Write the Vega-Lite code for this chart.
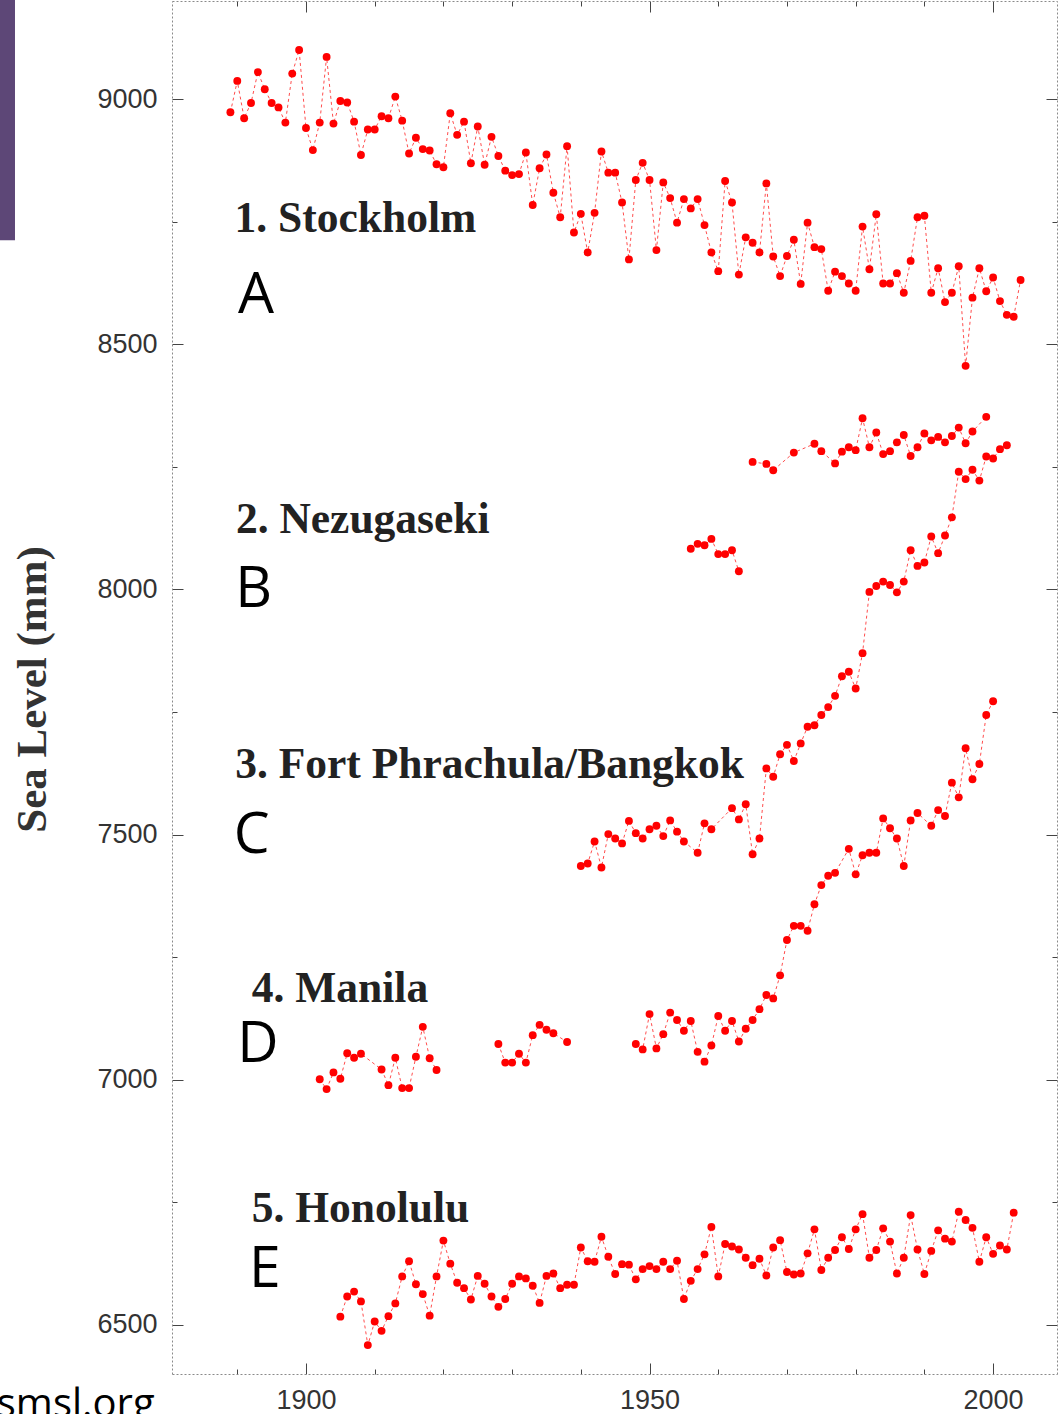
{
  "$schema": "https://vega.github.io/schema/vega-lite/v6.json",
  "width": 885,
  "height": 1373,
  "autosize": "none",
  "padding": {"left": 172, "top": 1, "right": 1, "bottom": 40},
  "background": "white",
  "config": {"view": {"stroke": null}, "axis": {"grid": false}},
  "datasets": {
    "sea": [
      {"seg":"Stockholm","year":1889,"mm":8973},{"seg":"Stockholm","year":1890,"mm":9037},{"seg":"Stockholm","year":1891,"mm":8961},{"seg":"Stockholm","year":1892,"mm":8992},{"seg":"Stockholm","year":1893,"mm":9055},{"seg":"Stockholm","year":1894,"mm":9020},{"seg":"Stockholm","year":1895,"mm":8992},{"seg":"Stockholm","year":1896,"mm":8983},{"seg":"Stockholm","year":1897,"mm":8952},{"seg":"Stockholm","year":1898,"mm":9052},
      {"seg":"Stockholm","year":1899,"mm":9100},{"seg":"Stockholm","year":1900,"mm":8941},{"seg":"Stockholm","year":1901,"mm":8896},{"seg":"Stockholm","year":1902,"mm":8952},{"seg":"Stockholm","year":1903,"mm":9086},{"seg":"Stockholm","year":1904,"mm":8950},{"seg":"Stockholm","year":1905,"mm":8996},{"seg":"Stockholm","year":1906,"mm":8993},{"seg":"Stockholm","year":1907,"mm":8954},{"seg":"Stockholm","year":1908,"mm":8886},
      {"seg":"Stockholm","year":1909,"mm":8938},{"seg":"Stockholm","year":1910,"mm":8938},{"seg":"Stockholm","year":1911,"mm":8965},{"seg":"Stockholm","year":1912,"mm":8961},{"seg":"Stockholm","year":1913,"mm":9005},{"seg":"Stockholm","year":1914,"mm":8956},{"seg":"Stockholm","year":1915,"mm":8889},{"seg":"Stockholm","year":1916,"mm":8921},{"seg":"Stockholm","year":1917,"mm":8898},{"seg":"Stockholm","year":1918,"mm":8895},
      {"seg":"Stockholm","year":1919,"mm":8867},{"seg":"Stockholm","year":1920,"mm":8861},{"seg":"Stockholm","year":1921,"mm":8971},{"seg":"Stockholm","year":1922,"mm":8927},{"seg":"Stockholm","year":1923,"mm":8954},{"seg":"Stockholm","year":1924,"mm":8869},{"seg":"Stockholm","year":1925,"mm":8944},{"seg":"Stockholm","year":1926,"mm":8866},{"seg":"Stockholm","year":1927,"mm":8923},{"seg":"Stockholm","year":1928,"mm":8884},
      {"seg":"Stockholm","year":1929,"mm":8854},{"seg":"Stockholm","year":1930,"mm":8845},{"seg":"Stockholm","year":1931,"mm":8847},{"seg":"Stockholm","year":1932,"mm":8891},{"seg":"Stockholm","year":1933,"mm":8784},{"seg":"Stockholm","year":1934,"mm":8859},{"seg":"Stockholm","year":1935,"mm":8887},{"seg":"Stockholm","year":1936,"mm":8809},{"seg":"Stockholm","year":1937,"mm":8759},{"seg":"Stockholm","year":1938,"mm":8904},
      {"seg":"Stockholm","year":1939,"mm":8728},{"seg":"Stockholm","year":1940,"mm":8766},{"seg":"Stockholm","year":1941,"mm":8687},{"seg":"Stockholm","year":1942,"mm":8768},{"seg":"Stockholm","year":1943,"mm":8893},{"seg":"Stockholm","year":1944,"mm":8850},{"seg":"Stockholm","year":1945,"mm":8850},{"seg":"Stockholm","year":1946,"mm":8789},{"seg":"Stockholm","year":1947,"mm":8673},{"seg":"Stockholm","year":1948,"mm":8835},
      {"seg":"Stockholm","year":1949,"mm":8870},{"seg":"Stockholm","year":1950,"mm":8835},{"seg":"Stockholm","year":1951,"mm":8692},{"seg":"Stockholm","year":1952,"mm":8830},{"seg":"Stockholm","year":1953,"mm":8798},{"seg":"Stockholm","year":1954,"mm":8748},{"seg":"Stockholm","year":1955,"mm":8796},{"seg":"Stockholm","year":1956,"mm":8777},{"seg":"Stockholm","year":1957,"mm":8796},{"seg":"Stockholm","year":1958,"mm":8743},
      {"seg":"Stockholm","year":1959,"mm":8687},{"seg":"Stockholm","year":1960,"mm":8649},{"seg":"Stockholm","year":1961,"mm":8833},{"seg":"Stockholm","year":1962,"mm":8789},{"seg":"Stockholm","year":1963,"mm":8642},{"seg":"Stockholm","year":1964,"mm":8718},{"seg":"Stockholm","year":1965,"mm":8707},{"seg":"Stockholm","year":1966,"mm":8687},{"seg":"Stockholm","year":1967,"mm":8828},{"seg":"Stockholm","year":1968,"mm":8679},
      {"seg":"Stockholm","year":1969,"mm":8639},{"seg":"Stockholm","year":1970,"mm":8680},{"seg":"Stockholm","year":1971,"mm":8713},{"seg":"Stockholm","year":1972,"mm":8623},{"seg":"Stockholm","year":1973,"mm":8748},{"seg":"Stockholm","year":1974,"mm":8698},{"seg":"Stockholm","year":1975,"mm":8694},{"seg":"Stockholm","year":1976,"mm":8609},{"seg":"Stockholm","year":1977,"mm":8648},{"seg":"Stockholm","year":1978,"mm":8639},
      {"seg":"Stockholm","year":1979,"mm":8624},{"seg":"Stockholm","year":1980,"mm":8609},{"seg":"Stockholm","year":1981,"mm":8740},{"seg":"Stockholm","year":1982,"mm":8653},{"seg":"Stockholm","year":1983,"mm":8765},{"seg":"Stockholm","year":1984,"mm":8624},{"seg":"Stockholm","year":1985,"mm":8624},{"seg":"Stockholm","year":1986,"mm":8645},{"seg":"Stockholm","year":1987,"mm":8605},{"seg":"Stockholm","year":1988,"mm":8670},
      {"seg":"Stockholm","year":1989,"mm":8759},{"seg":"Stockholm","year":1990,"mm":8762},{"seg":"Stockholm","year":1991,"mm":8605},{"seg":"Stockholm","year":1992,"mm":8655},{"seg":"Stockholm","year":1993,"mm":8586},{"seg":"Stockholm","year":1994,"mm":8605},{"seg":"Stockholm","year":1995,"mm":8659},{"seg":"Stockholm","year":1996,"mm":8456},{"seg":"Stockholm","year":1997,"mm":8595},{"seg":"Stockholm","year":1998,"mm":8655},
      {"seg":"Stockholm","year":1999,"mm":8608},{"seg":"Stockholm","year":2000,"mm":8636},{"seg":"Stockholm","year":2001,"mm":8588},{"seg":"Stockholm","year":2002,"mm":8560},{"seg":"Stockholm","year":2003,"mm":8556},{"seg":"Stockholm","year":2004,"mm":8631},

      {"seg":"Nezugaseki-1","year":1956,"mm":8083},{"seg":"Nezugaseki-1","year":1957,"mm":8093},{"seg":"Nezugaseki-1","year":1958,"mm":8090},{"seg":"Nezugaseki-1","year":1959,"mm":8103},{"seg":"Nezugaseki-1","year":1960,"mm":8072},{"seg":"Nezugaseki-1","year":1961,"mm":8072},{"seg":"Nezugaseki-1","year":1962,"mm":8080},{"seg":"Nezugaseki-1","year":1963,"mm":8037},
      {"seg":"Nezugaseki-2","year":1965,"mm":8260},{"seg":"Nezugaseki-2","year":1967,"mm":8256},{"seg":"Nezugaseki-2","year":1968,"mm":8243},{"seg":"Nezugaseki-2","year":1971,"mm":8279},{"seg":"Nezugaseki-2","year":1974,"mm":8297},{"seg":"Nezugaseki-2","year":1975,"mm":8282},{"seg":"Nezugaseki-2","year":1977,"mm":8257},{"seg":"Nezugaseki-2","year":1978,"mm":8281},{"seg":"Nezugaseki-2","year":1979,"mm":8290},{"seg":"Nezugaseki-2","year":1980,"mm":8284},
      {"seg":"Nezugaseki-2","year":1981,"mm":8349},{"seg":"Nezugaseki-2","year":1982,"mm":8290},{"seg":"Nezugaseki-2","year":1983,"mm":8320},{"seg":"Nezugaseki-2","year":1984,"mm":8276},{"seg":"Nezugaseki-2","year":1985,"mm":8282},{"seg":"Nezugaseki-2","year":1986,"mm":8300},{"seg":"Nezugaseki-2","year":1987,"mm":8315},{"seg":"Nezugaseki-2","year":1988,"mm":8272},{"seg":"Nezugaseki-2","year":1989,"mm":8290},{"seg":"Nezugaseki-2","year":1990,"mm":8318},
      {"seg":"Nezugaseki-2","year":1991,"mm":8304},{"seg":"Nezugaseki-2","year":1992,"mm":8311},{"seg":"Nezugaseki-2","year":1993,"mm":8300},{"seg":"Nezugaseki-2","year":1994,"mm":8313},{"seg":"Nezugaseki-2","year":1995,"mm":8330},{"seg":"Nezugaseki-2","year":1996,"mm":8298},{"seg":"Nezugaseki-2","year":1997,"mm":8322},{"seg":"Nezugaseki-2","year":1999,"mm":8352},

      {"seg":"Bangkok","year":1940,"mm":7436},{"seg":"Bangkok","year":1941,"mm":7441},{"seg":"Bangkok","year":1942,"mm":7486},{"seg":"Bangkok","year":1943,"mm":7433},{"seg":"Bangkok","year":1944,"mm":7501},{"seg":"Bangkok","year":1945,"mm":7492},{"seg":"Bangkok","year":1946,"mm":7482},{"seg":"Bangkok","year":1947,"mm":7528},{"seg":"Bangkok","year":1948,"mm":7503},{"seg":"Bangkok","year":1949,"mm":7492},
      {"seg":"Bangkok","year":1950,"mm":7511},{"seg":"Bangkok","year":1951,"mm":7518},{"seg":"Bangkok","year":1952,"mm":7497},{"seg":"Bangkok","year":1953,"mm":7529},{"seg":"Bangkok","year":1954,"mm":7506},{"seg":"Bangkok","year":1955,"mm":7486},{"seg":"Bangkok","year":1957,"mm":7463},{"seg":"Bangkok","year":1958,"mm":7523},{"seg":"Bangkok","year":1959,"mm":7511},{"seg":"Bangkok","year":1962,"mm":7554},
      {"seg":"Bangkok","year":1963,"mm":7531},{"seg":"Bangkok","year":1964,"mm":7562},{"seg":"Bangkok","year":1965,"mm":7460},{"seg":"Bangkok","year":1966,"mm":7492},{"seg":"Bangkok","year":1967,"mm":7635},{"seg":"Bangkok","year":1968,"mm":7618},{"seg":"Bangkok","year":1969,"mm":7664},{"seg":"Bangkok","year":1970,"mm":7683},{"seg":"Bangkok","year":1971,"mm":7650},{"seg":"Bangkok","year":1972,"mm":7686},
      {"seg":"Bangkok","year":1973,"mm":7720},{"seg":"Bangkok","year":1974,"mm":7723},{"seg":"Bangkok","year":1975,"mm":7744},{"seg":"Bangkok","year":1976,"mm":7760},{"seg":"Bangkok","year":1977,"mm":7783},{"seg":"Bangkok","year":1978,"mm":7823},{"seg":"Bangkok","year":1979,"mm":7832},{"seg":"Bangkok","year":1980,"mm":7798},{"seg":"Bangkok","year":1981,"mm":7870},{"seg":"Bangkok","year":1982,"mm":7995},
      {"seg":"Bangkok","year":1983,"mm":8007},{"seg":"Bangkok","year":1984,"mm":8016},{"seg":"Bangkok","year":1985,"mm":8009},{"seg":"Bangkok","year":1986,"mm":7994},{"seg":"Bangkok","year":1987,"mm":8016},{"seg":"Bangkok","year":1988,"mm":8080},{"seg":"Bangkok","year":1989,"mm":8048},{"seg":"Bangkok","year":1990,"mm":8055},{"seg":"Bangkok","year":1991,"mm":8108},{"seg":"Bangkok","year":1992,"mm":8074},
      {"seg":"Bangkok","year":1993,"mm":8110},{"seg":"Bangkok","year":1994,"mm":8147},{"seg":"Bangkok","year":1995,"mm":8240},{"seg":"Bangkok","year":1996,"mm":8225},{"seg":"Bangkok","year":1997,"mm":8244},{"seg":"Bangkok","year":1998,"mm":8222},{"seg":"Bangkok","year":1999,"mm":8271},{"seg":"Bangkok","year":2000,"mm":8267},{"seg":"Bangkok","year":2001,"mm":8286},{"seg":"Bangkok","year":2002,"mm":8294},

      {"seg":"Manila-1","year":1902,"mm":7001},{"seg":"Manila-1","year":1903,"mm":6981},{"seg":"Manila-1","year":1904,"mm":7015},{"seg":"Manila-1","year":1905,"mm":7002},{"seg":"Manila-1","year":1906,"mm":7054},{"seg":"Manila-1","year":1907,"mm":7045},{"seg":"Manila-1","year":1908,"mm":7053},{"seg":"Manila-1","year":1911,"mm":7021},{"seg":"Manila-1","year":1912,"mm":6989},{"seg":"Manila-1","year":1913,"mm":7045},
      {"seg":"Manila-1","year":1914,"mm":6983},{"seg":"Manila-1","year":1915,"mm":6983},{"seg":"Manila-1","year":1916,"mm":7047},{"seg":"Manila-1","year":1917,"mm":7108},{"seg":"Manila-1","year":1918,"mm":7044},{"seg":"Manila-1","year":1919,"mm":7020},
      {"seg":"Manila-2","year":1928,"mm":7073},{"seg":"Manila-2","year":1929,"mm":7035},{"seg":"Manila-2","year":1930,"mm":7035},{"seg":"Manila-2","year":1931,"mm":7053},{"seg":"Manila-2","year":1932,"mm":7035},{"seg":"Manila-2","year":1933,"mm":7091},{"seg":"Manila-2","year":1934,"mm":7112},{"seg":"Manila-2","year":1935,"mm":7102},{"seg":"Manila-2","year":1936,"mm":7095},{"seg":"Manila-2","year":1938,"mm":7077},
      {"seg":"Manila-3","year":1948,"mm":7073},{"seg":"Manila-3","year":1949,"mm":7062},{"seg":"Manila-3","year":1950,"mm":7134},{"seg":"Manila-3","year":1951,"mm":7064},{"seg":"Manila-3","year":1952,"mm":7093},{"seg":"Manila-3","year":1953,"mm":7137},{"seg":"Manila-3","year":1954,"mm":7122},{"seg":"Manila-3","year":1955,"mm":7100},{"seg":"Manila-3","year":1956,"mm":7120},{"seg":"Manila-3","year":1957,"mm":7057},
      {"seg":"Manila-3","year":1958,"mm":7037},{"seg":"Manila-3","year":1959,"mm":7070},{"seg":"Manila-3","year":1960,"mm":7130},{"seg":"Manila-3","year":1961,"mm":7100},{"seg":"Manila-3","year":1962,"mm":7120},{"seg":"Manila-3","year":1963,"mm":7078},{"seg":"Manila-3","year":1964,"mm":7104},{"seg":"Manila-3","year":1965,"mm":7122},{"seg":"Manila-3","year":1966,"mm":7144},{"seg":"Manila-3","year":1967,"mm":7173},
      {"seg":"Manila-3","year":1968,"mm":7166},{"seg":"Manila-3","year":1969,"mm":7213},{"seg":"Manila-3","year":1970,"mm":7285},{"seg":"Manila-3","year":1971,"mm":7314},{"seg":"Manila-3","year":1972,"mm":7314},{"seg":"Manila-3","year":1973,"mm":7304},{"seg":"Manila-3","year":1974,"mm":7358},{"seg":"Manila-3","year":1975,"mm":7397},{"seg":"Manila-3","year":1976,"mm":7416},{"seg":"Manila-3","year":1977,"mm":7422},
      {"seg":"Manila-3","year":1979,"mm":7471},{"seg":"Manila-3","year":1980,"mm":7419},{"seg":"Manila-3","year":1981,"mm":7458},{"seg":"Manila-3","year":1982,"mm":7463},{"seg":"Manila-3","year":1983,"mm":7463},{"seg":"Manila-3","year":1984,"mm":7533},{"seg":"Manila-3","year":1985,"mm":7513},{"seg":"Manila-3","year":1986,"mm":7492},{"seg":"Manila-3","year":1987,"mm":7436},{"seg":"Manila-3","year":1988,"mm":7529},
      {"seg":"Manila-3","year":1989,"mm":7544},{"seg":"Manila-3","year":1991,"mm":7518},{"seg":"Manila-3","year":1992,"mm":7550},{"seg":"Manila-3","year":1993,"mm":7538},{"seg":"Manila-3","year":1994,"mm":7606},{"seg":"Manila-3","year":1995,"mm":7576},{"seg":"Manila-3","year":1996,"mm":7676},{"seg":"Manila-3","year":1997,"mm":7613},{"seg":"Manila-3","year":1998,"mm":7644},{"seg":"Manila-3","year":1999,"mm":7744},
      {"seg":"Manila-3","year":2000,"mm":7772},

      {"seg":"Honolulu","year":1905,"mm":6517},{"seg":"Honolulu","year":1906,"mm":6558},{"seg":"Honolulu","year":1907,"mm":6568},{"seg":"Honolulu","year":1908,"mm":6548},{"seg":"Honolulu","year":1909,"mm":6459},{"seg":"Honolulu","year":1910,"mm":6507},{"seg":"Honolulu","year":1911,"mm":6488},{"seg":"Honolulu","year":1912,"mm":6518},{"seg":"Honolulu","year":1913,"mm":6544},{"seg":"Honolulu","year":1914,"mm":6599},
      {"seg":"Honolulu","year":1915,"mm":6630},{"seg":"Honolulu","year":1916,"mm":6583},{"seg":"Honolulu","year":1917,"mm":6563},{"seg":"Honolulu","year":1918,"mm":6519},{"seg":"Honolulu","year":1919,"mm":6599},{"seg":"Honolulu","year":1920,"mm":6672},{"seg":"Honolulu","year":1921,"mm":6625},{"seg":"Honolulu","year":1922,"mm":6586},{"seg":"Honolulu","year":1923,"mm":6575},{"seg":"Honolulu","year":1924,"mm":6552},
      {"seg":"Honolulu","year":1925,"mm":6600},{"seg":"Honolulu","year":1926,"mm":6584},{"seg":"Honolulu","year":1927,"mm":6558},{"seg":"Honolulu","year":1928,"mm":6537},{"seg":"Honolulu","year":1929,"mm":6553},{"seg":"Honolulu","year":1930,"mm":6584},{"seg":"Honolulu","year":1931,"mm":6599},{"seg":"Honolulu","year":1932,"mm":6595},{"seg":"Honolulu","year":1933,"mm":6580},{"seg":"Honolulu","year":1934,"mm":6545},
      {"seg":"Honolulu","year":1935,"mm":6600},{"seg":"Honolulu","year":1936,"mm":6605},{"seg":"Honolulu","year":1937,"mm":6575},{"seg":"Honolulu","year":1938,"mm":6582},{"seg":"Honolulu","year":1939,"mm":6582},{"seg":"Honolulu","year":1940,"mm":6658},{"seg":"Honolulu","year":1941,"mm":6630},{"seg":"Honolulu","year":1942,"mm":6629},{"seg":"Honolulu","year":1943,"mm":6680},{"seg":"Honolulu","year":1944,"mm":6639},
      {"seg":"Honolulu","year":1945,"mm":6604},{"seg":"Honolulu","year":1946,"mm":6624},{"seg":"Honolulu","year":1947,"mm":6623},{"seg":"Honolulu","year":1948,"mm":6593},{"seg":"Honolulu","year":1949,"mm":6614},{"seg":"Honolulu","year":1950,"mm":6620},{"seg":"Honolulu","year":1951,"mm":6614},{"seg":"Honolulu","year":1952,"mm":6629},{"seg":"Honolulu","year":1953,"mm":6614},{"seg":"Honolulu","year":1954,"mm":6631},
      {"seg":"Honolulu","year":1955,"mm":6553},{"seg":"Honolulu","year":1956,"mm":6590},{"seg":"Honolulu","year":1957,"mm":6614},{"seg":"Honolulu","year":1958,"mm":6644},{"seg":"Honolulu","year":1959,"mm":6700},{"seg":"Honolulu","year":1960,"mm":6599},{"seg":"Honolulu","year":1961,"mm":6665},{"seg":"Honolulu","year":1962,"mm":6660},{"seg":"Honolulu","year":1963,"mm":6654},{"seg":"Honolulu","year":1964,"mm":6637},
      {"seg":"Honolulu","year":1965,"mm":6622},{"seg":"Honolulu","year":1966,"mm":6635},{"seg":"Honolulu","year":1967,"mm":6601},{"seg":"Honolulu","year":1968,"mm":6658},{"seg":"Honolulu","year":1969,"mm":6673},{"seg":"Honolulu","year":1970,"mm":6608},{"seg":"Honolulu","year":1971,"mm":6603},{"seg":"Honolulu","year":1972,"mm":6605},{"seg":"Honolulu","year":1973,"mm":6646},{"seg":"Honolulu","year":1974,"mm":6695},
      {"seg":"Honolulu","year":1975,"mm":6612},{"seg":"Honolulu","year":1976,"mm":6637},{"seg":"Honolulu","year":1977,"mm":6653},{"seg":"Honolulu","year":1978,"mm":6679},{"seg":"Honolulu","year":1979,"mm":6655},{"seg":"Honolulu","year":1980,"mm":6695},{"seg":"Honolulu","year":1981,"mm":6726},{"seg":"Honolulu","year":1982,"mm":6637},{"seg":"Honolulu","year":1983,"mm":6653},{"seg":"Honolulu","year":1984,"mm":6697},
      {"seg":"Honolulu","year":1985,"mm":6670},{"seg":"Honolulu","year":1986,"mm":6605},{"seg":"Honolulu","year":1987,"mm":6637},{"seg":"Honolulu","year":1988,"mm":6724},{"seg":"Honolulu","year":1989,"mm":6654},{"seg":"Honolulu","year":1990,"mm":6604},{"seg":"Honolulu","year":1991,"mm":6651},{"seg":"Honolulu","year":1992,"mm":6693},{"seg":"Honolulu","year":1993,"mm":6676},{"seg":"Honolulu","year":1994,"mm":6670},
      {"seg":"Honolulu","year":1995,"mm":6731},{"seg":"Honolulu","year":1996,"mm":6714},{"seg":"Honolulu","year":1997,"mm":6698},{"seg":"Honolulu","year":1998,"mm":6629},{"seg":"Honolulu","year":1999,"mm":6679},{"seg":"Honolulu","year":2000,"mm":6645},{"seg":"Honolulu","year":2001,"mm":6662},{"seg":"Honolulu","year":2002,"mm":6654},{"seg":"Honolulu","year":2003,"mm":6729}
    ],
    "stations": [
      {"label":"1. Stockholm","year":1889.6,"mm":8729},
      {"label":"2. Nezugaseki","year":1889.8,"mm":8115},
      {"label":"3. Fort Phrachula/Bangkok","year":1889.7,"mm":7615},
      {"label":"4. Manila","year":1892.1,"mm":7159},
      {"label":"5. Honolulu","year":1892.1,"mm":6710}
    ],
    "letters": [
      {"letter":"A","year":1890.1,"mm":8564},
      {"letter":"B","year":1889.7,"mm":7964},
      {"letter":"C","year":1889.5,"mm":7462},
      {"letter":"D","year":1890.0,"mm":7036},
      {"letter":"E","year":1891.7,"mm":6577}
    ],
    "source": [{"label":"smsl.org","year":1855.0,"mm":6312}],
    "band": [{"x1":1854.5,"x2":1857.65,"y1":9210,"y2":8712}]
  },
  "resolve": {"axis": {"x": "independent", "y": "independent"}},
  "layer": [
    {
      "data": {"name": "sea"},
      "mark": {"type": "line", "color": "#ff4d4d", "strokeWidth": 1, "strokeDash": [3, 3], "clip": false},
      "encoding": {
        "x": {"field": "year", "type": "quantitative", "scale": {"domain": [1880.5, 2009.3], "nice": false, "zero": false},
          "axis": {"orient": "bottom", "title": null, "values": [1890,1900,1910,1920,1930,1940,1950,1960,1970,1980,1990,2000], "format": "d",
            "labelExpr": "datum.value % 50 === 0 ? datum.label : ''",
            "tickSize": {"condition": {"test": "datum.value % 50 === 0", "value": -11}, "value": -5},
            "tickColor": "#444", "tickWidth": 1, "labelPadding": 24, "labelFont": "Liberation Sans", "labelFontSize": 27, "labelColor": "#333",
            "labelOverlap": false, "labelFlush": false, "domainColor": "#8a8a8a", "domainDash": [2, 2], "domainWidth": 1}},
        "y": {"field": "mm", "type": "quantitative", "scale": {"domain": [6400, 9200], "nice": false, "zero": false},
          "axis": {"orient": "left", "title": "Sea Level (mm)", "values": [6500,6750,7000,7250,7500,7750,8000,8250,8500,8750,9000], "format": "d",
            "labelExpr": "datum.value % 500 === 0 ? datum.label : ''",
            "tickSize": {"condition": {"test": "datum.value % 500 === 0", "value": -11}, "value": -5},
            "tickColor": "#444", "tickWidth": 1, "labelPadding": 26, "labelFont": "Liberation Sans", "labelFontSize": 27, "labelColor": "#333",
            "labelOverlap": false, "labelFlush": false, "domainColor": "#8a8a8a", "domainDash": [2, 2], "domainWidth": 1,
            "titleFont": "Liberation Serif", "titleFontWeight": "bold", "titleFontSize": 43, "titleColor": "#333",
            "titleAngle": 270, "titleAlign": "center", "titleBaseline": "alphabetic", "titleX": -127, "titleY": 688}},
        "detail": {"field": "seg", "type": "nominal"}
      }
    },
    {
      "data": {"name": "sea"},
      "mark": {"type": "circle", "color": "#ff0000", "opacity": 1, "size": 62, "clip": false},
      "encoding": {
        "x": {"field": "year", "type": "quantitative", "axis": null},
        "y": {"field": "mm", "type": "quantitative", "axis": null}
      }
    },
    {
      "data": {"name": "stations"},
      "mark": {"type": "text", "align": "left", "baseline": "alphabetic", "font": "Liberation Serif", "fontWeight": "bold", "fontSize": 43.5, "color": "#222"},
      "encoding": {
        "x": {"field": "year", "type": "quantitative",
          "axis": {"orient": "top", "title": null, "labels": false, "values": [1890,1900,1910,1920,1930,1940,1950,1960,1970,1980,1990,2000],
            "tickSize": {"condition": {"test": "datum.value % 50 === 0", "value": -11}, "value": -5},
            "tickColor": "#444", "domainColor": "#8a8a8a", "domainDash": [2, 2], "domainWidth": 1}},
        "y": {"field": "mm", "type": "quantitative",
          "axis": {"orient": "right", "title": null, "labels": false, "values": [6500,6750,7000,7250,7500,7750,8000,8250,8500,8750,9000],
            "tickSize": {"condition": {"test": "datum.value % 500 === 0", "value": -11}, "value": -5},
            "tickColor": "#444", "domainColor": "#8a8a8a", "domainDash": [2, 2], "domainWidth": 1}},
        "text": {"field": "label", "type": "nominal"}
      }
    },
    {
      "data": {"name": "letters"},
      "mark": {"type": "text", "align": "left", "baseline": "alphabetic", "font": "Open Sans", "fontSize": 57, "color": "#000"},
      "encoding": {
        "x": {"field": "year", "type": "quantitative", "axis": null},
        "y": {"field": "mm", "type": "quantitative", "axis": null},
        "text": {"field": "letter", "type": "nominal"}
      }
    },
    {
      "data": {"name": "source"},
      "mark": {"type": "text", "align": "left", "baseline": "alphabetic", "font": "Open Sans", "fontSize": 40, "color": "#000"},
      "encoding": {
        "x": {"field": "year", "type": "quantitative", "axis": null},
        "y": {"field": "mm", "type": "quantitative", "axis": null},
        "text": {"field": "label", "type": "nominal"}
      }
    },
    {
      "data": {"name": "band"},
      "mark": {"type": "rect", "color": "#5d4777"},
      "encoding": {
        "x": {"field": "x1", "type": "quantitative", "axis": null},
        "x2": {"field": "x2"},
        "y": {"field": "y1", "type": "quantitative", "axis": null},
        "y2": {"field": "y2"}
      }
    }
  ]
}
